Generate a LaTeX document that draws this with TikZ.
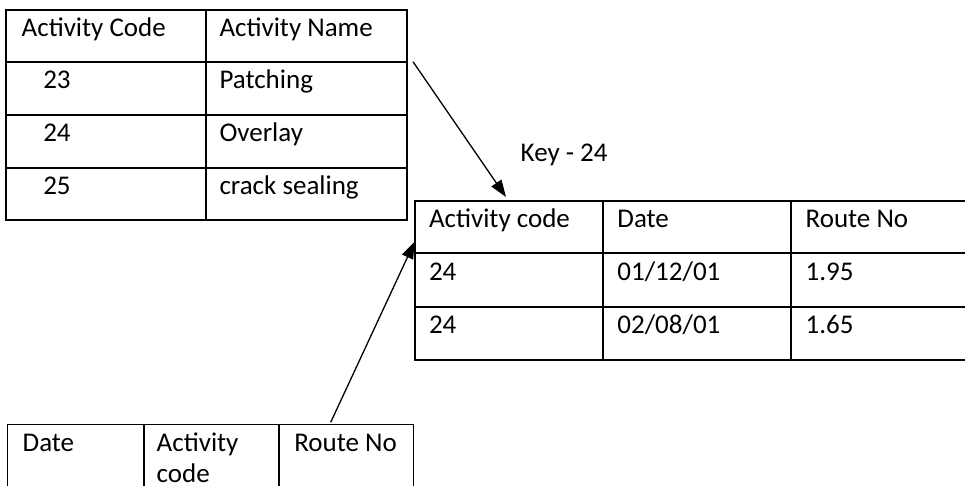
\documentclass[tikz,border=0pt]{standalone}
\usepackage{fontspec}
\setmainfont{Carlito}
\usetikzlibrary{arrows.meta}

\begin{document}
\begin{tikzpicture}[x=1pt,y=-1pt,
  cellA/.style={draw, line width=1.8pt, anchor=north west, inner sep=0pt, outer sep=0pt},
  cellB/.style={draw, line width=1.2pt, anchor=north west, inner sep=0pt, outer sep=0pt},
  txt/.style={anchor=base west, inner sep=0pt, outer sep=0pt, font=\fontsize{27}{32}\selectfont},
  link/.style={line width=1.3pt, -{Triangle[length=17pt,width=12pt]}}]
\useasboundingbox (0,0) rectangle (965,486);
\clip (0,0) rectangle (965,486);

% ---- activity table ----
\node[cellA, minimum width=200pt, minimum height=51.7pt] (a11) at (6,10) {};
\node[cellA, minimum width=200.7pt, minimum height=51.7pt] (a12) at (206,10) {};
\node[cellA, minimum width=200pt, minimum height=53.3pt] (a21) at (6,61.7) {};
\node[cellA, minimum width=200.7pt, minimum height=53.3pt] (a22) at (206,61.7) {};
\node[cellA, minimum width=200pt, minimum height=53.3pt] (a31) at (6,115) {};
\node[cellA, minimum width=200.7pt, minimum height=53.3pt] (a32) at (206,115) {};
\node[cellA, minimum width=200pt, minimum height=51.7pt] (a41) at (6,168.3) {};
\node[cellA, minimum width=200.7pt, minimum height=51.7pt] (a42) at (206,168.3) {};

\node[txt] (a11t) at (21.7,36.6) {Activity Code};
\node[txt] (a12t) at (219.5,36.6) {Activity Name};
\node[txt] (a21t) at (43.3,88.3) {23};
\node[txt] (a22t) at (219.5,88.3) {Patching};
\node[txt] (a31t) at (43.3,141.7) {24};
\node[txt] (a32t) at (219.5,141.7) {Overlay};
\node[txt] (a41t) at (43.3,195) {25};
\node[txt] (a42t) at (219.5,195) {crack sealing};

% ---- maintenance log table ----
\node[cellA, minimum width=188pt, minimum height=52.3pt] (b11) at (414.7,201) {};
\node[cellA, minimum width=188.3pt, minimum height=52.3pt] (b12) at (602.7,201) {};
\node[cellA, minimum width=177pt, minimum height=52.3pt] (b13) at (791,201) {};
\node[cellA, minimum width=188pt, minimum height=53.4pt] (b21) at (414.7,253.3) {};
\node[cellA, minimum width=188.3pt, minimum height=53.4pt] (b22) at (602.7,253.3) {};
\node[cellA, minimum width=177pt, minimum height=53.4pt] (b23) at (791,253.3) {};
\node[cellA, minimum width=188pt, minimum height=53.3pt] (b31) at (414.7,306.7) {};
\node[cellA, minimum width=188.3pt, minimum height=53.3pt] (b32) at (602.7,306.7) {};
\node[cellA, minimum width=177pt, minimum height=53.3pt] (b33) at (791,306.7) {};

\node[txt] (b11t) at (429,227.7) {Activity code};
\node[txt] (b12t) at (617.4,227.7) {Date};
\node[txt] (b13t) at (805.7,227.7) {Route No};
\node[txt] (b21t) at (429,280) {24};
\node[txt] (b22t) at (617.4,280) {01/12/01};
\node[txt] (b23t) at (805.7,280) {1.95};
\node[txt] (b31t) at (429,333.4) {24};
\node[txt] (b32t) at (617.4,333.4) {02/08/01};
\node[txt] (b33t) at (805.7,333.4) {1.65};

\node[txt] (key) at (520.7,161.7) {Key - 24};

% ---- route table ----
\node[cellB, minimum width=136.7pt, minimum height=80pt] (c11) at (7.3,424.3) {};
\node[cellB, minimum width=135pt, minimum height=80pt] (c12) at (144,424.3) {};
\node[cellB, minimum width=134.3pt, minimum height=80pt] (c13) at (279,424.3) {};

\node[txt] (c11t) at (22.7,451.7) {Date};
\node[txt] (c12t) at (156.7,451.7) {Activity};
\node[txt] (c12u) at (156.7,482) {code};
\node[txt] (c13t) at (294.3,451.7) {Route No};

% ---- links ----
\coordinate (s1) at ([xshift=6.3pt]a12.south east);
\coordinate (e1) at ([xshift=91.3pt,yshift=4pt]b11.north west);
\draw[link] (s1) -- (e1);

\coordinate (s2) at ([xshift=51.7pt,yshift=2pt]c13.north west);
\coordinate (e2) at ([yshift=-14.5pt]b11.west);
\draw[link] (s2) -- (e2);
\end{tikzpicture}
\end{document}
